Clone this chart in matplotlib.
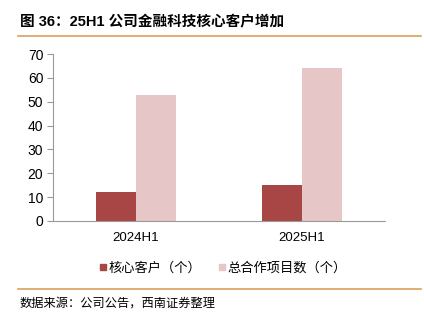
import matplotlib.pyplot as plt
import numpy as np
from matplotlib.lines import Line2D

plt.rcParams['font.family'] = ['Liberation Sans', 'Noto Sans CJK SC', 'DejaVu Sans']

categories = ['2024H1', '2025H1']
core_clients = [12, 15]
total_projects = [53, 64]
series_names = ['核心客户（个）', '总合作项目数（个）']
colors = ['#A84545', '#E6C6C6']

fig = plt.figure(figsize=(4.24, 3.22), dpi=100)
ax = fig.add_axes([53 / 424, 1 - 221 / 322, 332 / 424, 167 / 322])

x = np.arange(len(categories))
w = 0.24
ax.bar(x - w / 2, core_clients, w, color=colors[0])
ax.bar(x + w / 2, total_projects, w, color=colors[1])

ax.set_xlim(-0.5, 1.5)
ax.set_ylim(0, 70)
ax.set_yticks(range(0, 71, 10))
ax.set_xticks(x)
ax.set_xticklabels(categories)
for s in ['top', 'right']:
    ax.spines[s].set_visible(False)
ax.spines['left'].set_color('#999999')
ax.spines['bottom'].set_color('#999999')
ax.tick_params(axis='y', length=4, color='#999999', labelsize=10, pad=3)
ax.tick_params(axis='x', length=0, labelsize=9.5, pad=8)

# title and rules
fig.text(20 / 424, 1 - 22 / 322, '图 36：25H1 公司金融科技核心客户增加', fontsize=10.5,
         fontweight='bold', va='center', ha='left')
fig.add_artist(Line2D([18 / 424, 421 / 424], [1 - 36 / 322, 1 - 36 / 322], color='#D9A05B', lw=1.2))
fig.add_artist(Line2D([18 / 424, 421 / 424], [1 - 289 / 322, 1 - 289 / 322], color='#D9A05B', lw=1.2))

handles = [Line2D([], [], marker='s', ls='', color=c, markersize=5) for c in colors]
fig.legend(handles, series_names, loc='center', bbox_to_anchor=(0.525, 1 - 268 / 322),
           ncol=2, frameon=False, fontsize=9.5, handletextpad=0.1, columnspacing=1.2,
           handlelength=0.7)

fig.text(20 / 424, 1 - 304 / 322, '数据来源：公司公告，西南证券整理', fontsize=8.8,
         style='italic', va='center', ha='left')

fig.savefig('out.png', dpi=100)
